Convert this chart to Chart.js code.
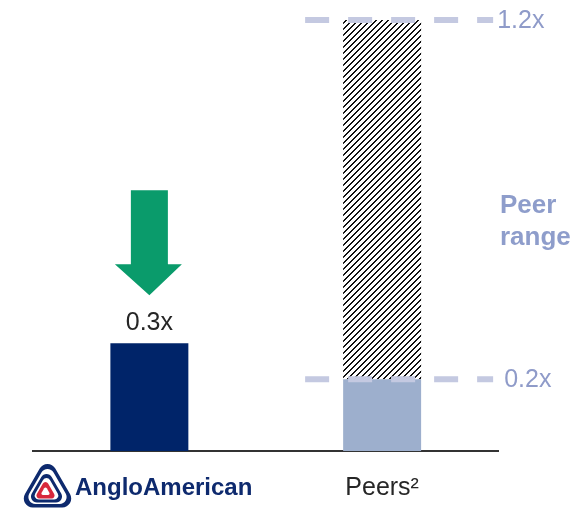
<!DOCTYPE html>
<html><head><meta charset="utf-8">
<script src="https://cdn.jsdelivr.net/npm/chart.js@4"></script>
<style>html,body{margin:0;padding:0;background:#fff}canvas{display:block}</style>
</head><body>
<canvas id="c" width="574" height="515"></canvas>
<script>
// ---- data ----
const categories = ['Anglo American', 'Peers²'];
const multiples = [0.3, 0.2];
const peerRange = [0.2, 1.2];
const rangeLabels = ['0.2x', '1.2x'];
const valueLabels = ['0.3x', null];
const rangeTitle = ['Peer', 'range'];
const logoText = 'AngloAmerican';

const FONT = '"Liberation Sans", Arial, sans-serif';
const canvas = document.getElementById('c');
const mainCtx = canvas.getContext('2d');

function makeHatch() {
  const s = 6;
  const c = document.createElement('canvas');
  c.width = s; c.height = s;
  const g = c.getContext('2d');
  g.fillStyle = '#fff'; g.fillRect(0, 0, s, s);
  g.fillStyle = '#111';
  for (let y = 0; y < s; y++) {
    const x0 = (s - 1 - y + s) % s;
    g.fillRect(x0, y, 1, 1);
    g.fillRect((x0 + 1) % s, y, 1, 1);
  }
  return mainCtx.createPattern(c, 'repeat');
}

function roundTri(ctx, cx, cy, R, r) {
  const pts = [-90, 30, 150].map(a => [cx + R * Math.cos(a * Math.PI / 180), cy + R * Math.sin(a * Math.PI / 180)]);
  ctx.beginPath();
  ctx.moveTo((pts[0][0] + pts[1][0]) / 2, (pts[0][1] + pts[1][1]) / 2);
  ctx.arcTo(pts[1][0], pts[1][1], pts[2][0], pts[2][1], r);
  ctx.arcTo(pts[2][0], pts[2][1], pts[0][0], pts[0][1], r);
  ctx.arcTo(pts[0][0], pts[0][1], pts[1][0], pts[1][1], r);
  ctx.closePath();
}

const overlay = {
  id: 'overlay',
  afterDatasetsDraw(chart) {
    const ctx = chart.ctx;
    const xs = chart.scales.x, ys = chart.scales.y;
    const pcx = xs.getPixelForValue(1);
    ctx.save();
    // dashed range lines
    ctx.strokeStyle = '#C4C9E1';
    ctx.lineWidth = 6;
    ctx.setLineDash([24, 19]);
    const labelOff = [122, 115];
    peerRange.forEach((v, i) => {
      const py = ys.getPixelForValue(v);
      ctx.beginPath();
      ctx.moveTo(pcx - 77, py);
      ctx.lineTo(pcx + 111, py);
      ctx.stroke();
      ctx.fillStyle = '#8F9BC9';
      ctx.font = '25px ' + FONT;
      ctx.textAlign = 'left';
      ctx.textBaseline = 'middle';
      ctx.fillText(rangeLabels[i], pcx + labelOff[i], py + 1);
    });
    ctx.setLineDash([]);
    // Peer range title
    ctx.fillStyle = '#8E9DCB';
    ctx.font = 'bold 26px ' + FONT;
    ctx.textAlign = 'left';
    ctx.textBaseline = 'middle';
    rangeTitle.forEach((t, i) => ctx.fillText(t, 500, 206 + i * 32));

    // value label + arrow on Anglo bar
    const bar = chart.getDatasetMeta(0).data[0];
    const bx = bar.x, by = bar.y;
    ctx.fillStyle = '#262626';
    ctx.font = '25px ' + FONT;
    ctx.textAlign = 'center';
    ctx.fillText(valueLabels[0], bx, by - 20);
    ctx.fillStyle = '#0A9B6B';
    ctx.beginPath();
    ctx.moveTo(bx - 18.5, by - 153);
    ctx.lineTo(bx + 18.5, by - 153);
    ctx.lineTo(bx + 18.5, by - 79);
    ctx.lineTo(bx + 32.5, by - 79);
    ctx.lineTo(bx, by - 48);
    ctx.lineTo(bx - 34.5, by - 79);
    ctx.lineTo(bx - 18.5, by - 79);
    ctx.closePath();
    ctx.fill();

    // logo
    const lx = 47.5, ly = 490;
    ctx.fillStyle = '#0E2A6E'; roundTri(ctx, lx, ly, 35, 9); ctx.fill();
    ctx.fillStyle = '#ffffff'; roundTri(ctx, lx, ly, 28, 7); ctx.fill();
    ctx.fillStyle = '#0E2A6E'; roundTri(ctx, lx - 1, ly + 1, 23, 6); ctx.fill();
    ctx.fillStyle = '#ffffff'; roundTri(ctx, lx - 1, ly + 1, 17, 4); ctx.fill();
    ctx.fillStyle = '#D8283C'; roundTri(ctx, lx - 2, ly + 2, 13, 3); ctx.fill();
    ctx.fillStyle = '#ffffff'; roundTri(ctx, lx - 2, ly + 2, 6, 1.5); ctx.fill();
    ctx.fillStyle = '#0E2A6E';
    ctx.font = 'bold 24px ' + FONT;
    ctx.textAlign = 'left';
    ctx.textBaseline = 'middle';
    ctx.fillText(logoText, 75, 488);
    ctx.restore();
  }
};

new Chart(canvas, {
  type: 'bar',
  data: {
    labels: categories,
    datasets: [
      { data: multiples, backgroundColor: ['#002469', '#9DAFCD'], order: 1 },
      { data: [null, peerRange], backgroundColor: makeHatch(), order: 2 }
    ]
  },
  options: {
    responsive: false,
    animation: false,
    devicePixelRatio: 1,
    layout: { padding: { left: 33, right: 75.5, top: 20, bottom: 0 } },
    datasets: { bar: { grouped: false, barPercentage: 1, categoryPercentage: 0.335 } },
    plugins: { legend: { display: false }, tooltip: { enabled: false } },
    scales: {
      x: {
        grid: { display: false, drawTicks: false },
        border: { display: true, color: '#333333', width: 2 },
        ticks: {
          color: '#262626',
          font: { family: FONT, size: 25 },
          padding: 22,
          callback: (v, i) => (i === 0 ? '' : categories[i])
        },
        afterFit: s => { s.height = 64; }
      },
      y: { display: false, min: 0, max: 1.2 }
    }
  },
  plugins: [overlay]
});
</script>
</body></html>
